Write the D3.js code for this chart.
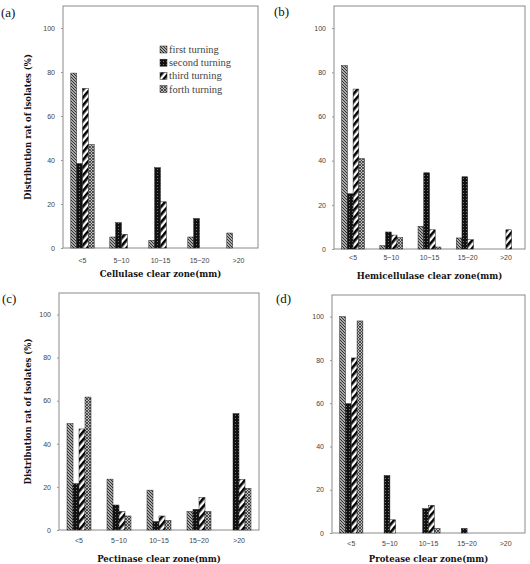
<!DOCTYPE html>
<html><head><meta charset="utf-8">
<script src="https://cdn.jsdelivr.net/npm/d3@7"></script>
<style>body{margin:0;background:#fff}svg{display:block}</style>
</head><body>
<script>
const categories = ["<5","5~10","10~15","15~20",">20"];
const seriesNames = ["first turning","second turning","third turning","forth turning"];
const yTicks = [0,20,40,60,80,100];

const cellulase = {
  first:  [79.5, 5, 3.5, 5, 6.8],
  second: [38.4, 11.5, 36.5, 13.4, 0],
  third:  [72.5, 6.2, 21, 0, 0],
  forth:  [47, 0, 0, 0, 0]
};
const hemicellulase = {
  first:  [83, 1.5, 10.3, 5, 0],
  second: [25, 7.7, 34.5, 32.7, 0],
  third:  [72.4, 6.3, 8.7, 4.2, 8.7],
  forth:  [40.9, 5.1, 0.9, 0, 0]
};
const pectinase = {
  first:  [49.4, 23.6, 18.5, 8.6, 0],
  second: [21.5, 11.6, 3.9, 9.6, 54],
  third:  [46.9, 8.6, 6.5, 15.1, 23.5],
  forth:  [61.7, 6.5, 4.5, 8.6, 19.3]
};
const protease = {
  first:  [100, 0, 0, 0, 0],
  second: [59.8, 26.6, 11.3, 2.1, 0],
  third:  [80.9, 6.1, 12.8, 0, 0],
  forth:  [98, 0, 2.1, 0, 0]
};

const panels = [
  {tag:"(a)", data:cellulase, title:"Cellulase clear zone(mm)", x0:63, x1:258, y0:6, y1:248, yTitle:true, legend:true, tagX:1, tagY:17, tickY:263, titleY:277},
  {tag:"(b)", data:hemicellulase, title:"Hemicellulase clear zone(mm)", x0:334, x1:525, y0:6, y1:249, yTitle:false, legend:false, tagX:274, tagY:16, tickY:260, titleY:279},
  {tag:"(c)", data:pectinase, title:"Pectinase clear zone(mm)", x0:59, x1:259, y0:293, y1:530, yTitle:true, legend:false, tagX:2, tagY:303, tickY:543, titleY:562},
  {tag:"(d)", data:protease, title:"Protease clear zone(mm)", x0:332, x1:525, y0:295, y1:533, yTitle:false, legend:false, tagX:276, tagY:303, tickY:546, titleY:562}
];

const W=530,H=564;
const svg=d3.select("body").append("svg").attr("width",W).attr("height",H);
const defs=svg.append("defs");
// patterns
const p1=defs.append("pattern").attr("id","pFirst").attr("patternUnits","userSpaceOnUse").attr("width",3).attr("height",3);
p1.append("rect").attr("width",3).attr("height",3).attr("fill","#ddd");
p1.append("path").attr("d","M-1,-1L4,4M-1,2L1,4M2,-1L4,1").attr("stroke","#2a2a2a").attr("stroke-width",1.1);
const p2=defs.append("pattern").attr("id","pSecond").attr("patternUnits","userSpaceOnUse").attr("width",3).attr("height",3);
p2.append("rect").attr("width",3).attr("height",3).attr("fill","#111");
p2.append("rect").attr("x",1).attr("y",1).attr("width",1).attr("height",1).attr("fill","#777");
const p3=defs.append("pattern").attr("id","pThird").attr("patternUnits","userSpaceOnUse").attr("width",5).attr("height",5).attr("patternTransform","rotate(40)");
p3.append("rect").attr("width",5).attr("height",5).attr("fill","#fff");
p3.append("rect").attr("width",2.6).attr("height",5).attr("fill","#000");
const p4=defs.append("pattern").attr("id","pForth").attr("patternUnits","userSpaceOnUse").attr("width",3).attr("height",3);
p4.append("rect").attr("width",3).attr("height",3).attr("fill","#bbb");
p4.append("path").attr("d","M-1,-1L4,4M-1,4L4,-1").attr("stroke","#333").attr("stroke-width",0.8);
const fills=["url(#pFirst)","url(#pSecond)","url(#pThird)","url(#pForth)"];
const keys=["first","second","third","forth"];

panels.forEach(p=>{
  const g=svg.append("g");
  const x=d3.scaleBand().domain(categories).range([p.x0,p.x1]).padding(0);
  const x1=d3.scaleBand().domain(keys).range([x.bandwidth()*0.2,x.bandwidth()*0.8]).padding(0);
  const y=d3.scaleLinear().domain([0,110]).range([p.y1,p.y0]);

  // frame
  g.append("rect").attr("x",p.x0).attr("y",p.y0).attr("width",p.x1-p.x0).attr("height",p.y1-p.y0)
    .attr("fill","none").attr("stroke","#8a8a8a").attr("stroke-width",1);

  // y axis
  const ya=g.append("g").attr("transform",`translate(${p.x0},0)`)
    .call(d3.axisLeft(y).tickValues(yTicks).tickSize(2).tickPadding(6));
  ya.select(".domain").remove();
  ya.selectAll("line").attr("stroke","#999");
  ya.selectAll("text").attr("font-family","Liberation Sans, Arial, sans-serif").attr("font-size",7).attr("fill","#444");

  // x tick labels
  g.selectAll(".xl").data(categories).join("text")
    .attr("x",d=>x(d)+x.bandwidth()/2).attr("y",p.tickY)
    .attr("text-anchor","middle").attr("font-family","Liberation Sans, Arial, sans-serif")
    .attr("font-size",7).attr("fill","#444").text(d=>d);

  // bars
  keys.forEach((k,i)=>{
    g.selectAll(".b"+k).data(p.data[k].map((v,j)=>({v,c:categories[j]}))).join("rect")
      .filter(d=>d.v>0)
      .attr("x",d=>x(d.c)+x1(k)).attr("width",x1.bandwidth())
      .attr("y",d=>y(d.v)).attr("height",d=>y(0)-y(d.v))
      .attr("fill",fills[i]).attr("stroke","#222").attr("stroke-width",0.5);
  });

  // tag
  g.append("text").attr("x",p.tagX).attr("y",p.tagY).attr("font-family","Liberation Serif, serif")
    .attr("font-size",13).attr("fill","#111").text(p.tag);

  // x title
  g.append("text").attr("x",(p.x0+p.x1)/2).attr("y",p.titleY).attr("text-anchor","middle")
    .attr("font-family","DejaVu Serif, serif").attr("font-weight","bold").attr("font-size",8.5)
    .attr("fill","#111").text(p.title);

  if(p.yTitle){
    const cy=(p.y0+p.y1)/2;
    g.append("text").attr("transform",`translate(31,${cy}) rotate(-90)`).attr("text-anchor","middle")
      .attr("font-family","DejaVu Serif, serif").attr("font-weight","bold").attr("font-size",8.5)
      .attr("fill","#111").text("Distribution rat of isolates (%)");
  }

  if(p.legend){
    const lg=g.append("g");
    seriesNames.forEach((s,i)=>{
      const yy=50+i*13.2;
      lg.append("rect").attr("x",160).attr("y",yy-4).attr("width",7).attr("height",7)
        .attr("fill",fills[i]).attr("stroke","#222").attr("stroke-width",0.5);
      lg.append("text").attr("x",169).attr("y",yy+3).attr("font-family","Liberation Serif, serif")
        .attr("font-size",10.5).attr("fill","#444").text(s);
    });
  }
});
</script>
</body></html>
